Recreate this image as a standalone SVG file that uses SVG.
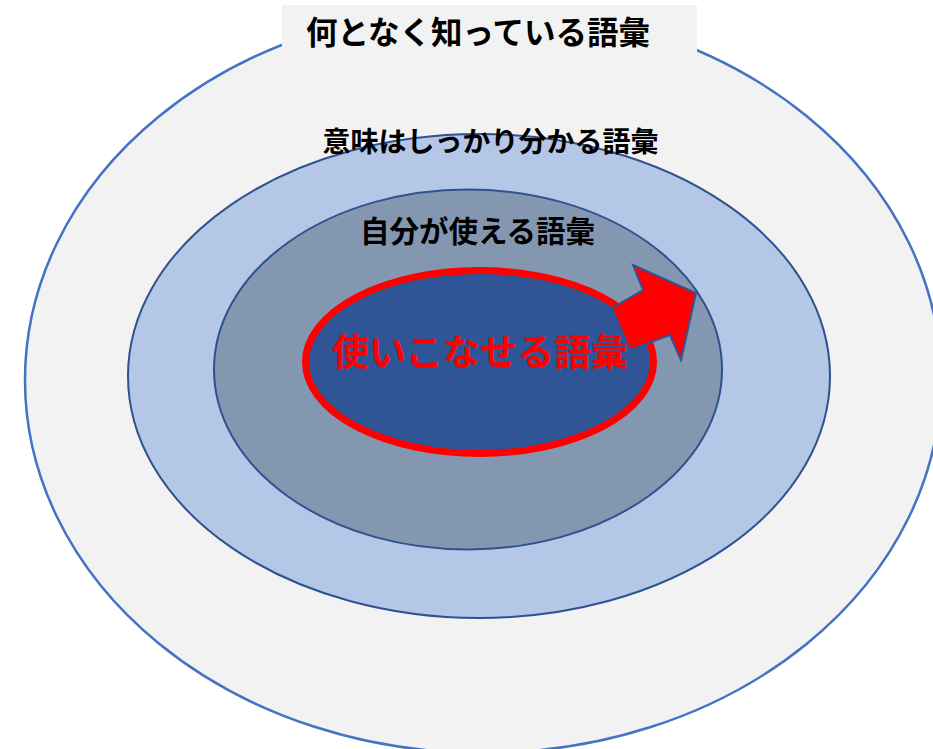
<svg xmlns="http://www.w3.org/2000/svg" width="933" height="749" viewBox="0 0 933 749">
<style>
.lbl{font-family:"Noto Sans CJK JP","Noto Sans CJK SC",sans-serif;font-weight:bold;text-anchor:middle;fill:#000}
.ring{stroke:#2F528F;stroke-width:2}
</style>
<rect width="933" height="749" fill="#FFFFFF"/>
<g id="outer">
<ellipse cx="483" cy="380" rx="458" ry="373" fill="#F2F2F2" stroke="#4472C4" stroke-width="2.5"/>
<rect x="282" y="5" width="415" height="55" fill="#F2F2F2"/>
<text class="lbl" x="478" y="44" font-size="31.5">何となく知っている語彙</text>
</g>
<g id="understand">
<ellipse class="ring" cx="479" cy="376" rx="351" ry="242" fill="#B4C7E7"/>
</g>
<g id="use">
<ellipse class="ring" cx="468" cy="369.5" rx="254" ry="180" fill="#8497B0"/>
<text class="lbl" x="477.5" y="242" font-size="29.5">自分が使える語彙</text>
</g>
<text class="lbl" x="490.5" y="152" font-size="28">意味はしっかり分かる語彙</text>
<g id="master">
<ellipse cx="479.5" cy="362" rx="174" ry="91.5" fill="#2F5597" stroke="#FF0000" stroke-width="7"/>
<text class="lbl" x="480" y="366" font-size="37" style="fill:#FF0000">使いこなせる語彙</text>
</g>
<g id="connectors">
<polygon points="612,308 643,290 633,265 696,293 681,360 670,335 630,350" fill="#FF0000" stroke="#2F5597" stroke-width="2" stroke-linejoin="miter"/>
</g>
</svg>
